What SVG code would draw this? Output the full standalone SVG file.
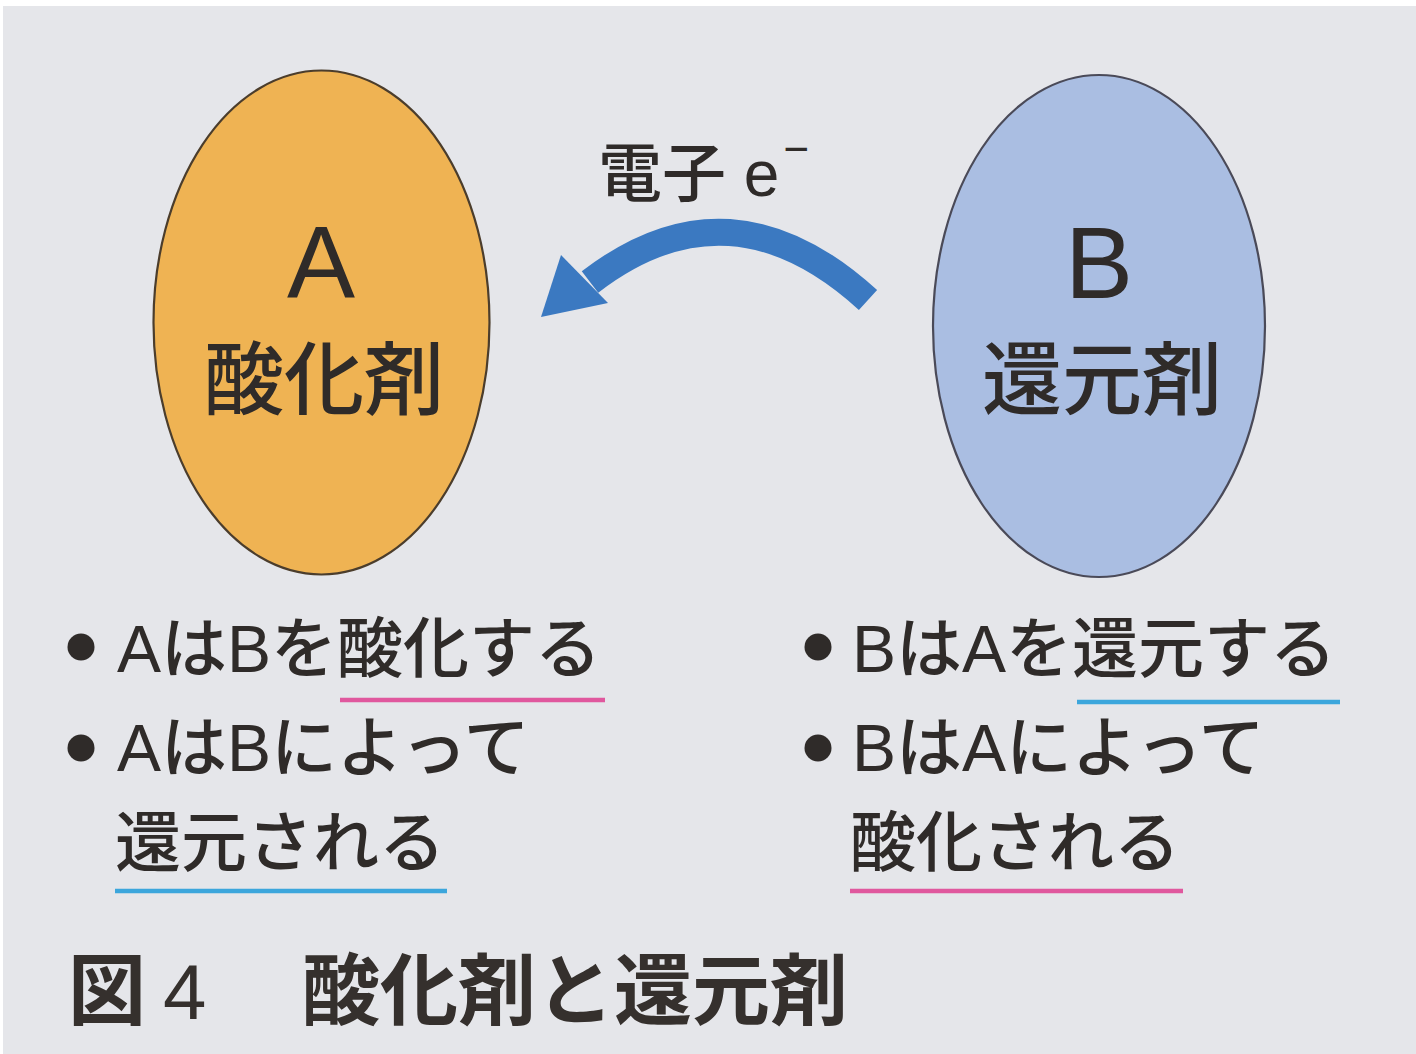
<svg xmlns="http://www.w3.org/2000/svg" width="1416" height="1054" viewBox="0 0 1416 1054">
  <style>
    .t { font-family: "Liberation Sans", "Noto Sans CJK JP", sans-serif; fill: #2f2b29; }
    .big { font-size: 102px; text-anchor: middle; }
    .role { font-size: 80px; text-anchor: middle; font-family: "Noto Sans CJK JP", sans-serif; font-weight: 500; }
    .body { font-size: 66px; font-weight: 500; }
    .title { font-size: 78px; font-weight: bold; font-family: "Noto Sans CJK JP", sans-serif; fill: #35302d; }
    .dot { fill: #2f2b29; }
    .ul-pink { stroke: #e0589e; stroke-width: 4.5; }
    .ul-blue { stroke: #3ca6dc; stroke-width: 4.5; }
  </style>
  <rect x="0" y="0" width="1416" height="1054" fill="#ffffff"/>
  <rect x="3" y="6" width="1413" height="1048" fill="#e5e6ea"/>

  <g id="node-A">
    <ellipse cx="321.5" cy="322.5" rx="168" ry="252" fill="#efb353" stroke="#4b3d2c" stroke-width="2.2"/>
    <text class="t big" x="321" y="298">A</text>
    <text class="t role" x="324" y="408">酸化剤</text>
  </g>

  <g id="node-B">
    <ellipse cx="1099" cy="326" rx="166" ry="251" fill="#aabee2" stroke="#4a4a58" stroke-width="2.2"/>
    <text class="t big" x="1099" y="298">B</text>
    <text class="t role" x="1102" y="408">還元剤</text>
  </g>

  <g id="connectors">
    <path d="M 868 300 Q 730 174 590 282" fill="none" stroke="#3b79c1" stroke-width="27"/>
    <polygon points="541,317 561,255 608,303" fill="#3b79c1"/>
    <text class="t" x="598" y="196" font-size="64" font-weight="500">電子 e<tspan dx="4" dy="-32" font-size="44">−</tspan></text>
  </g>

  <g id="statements-A">
    <circle class="dot" cx="81" cy="647" r="13.5"/>
    <text class="t body" x="117" y="672">AはBを酸化する</text>
    <line class="ul-pink" x1="340" y1="700" x2="605" y2="700"/>
    <circle class="dot" cx="81" cy="748" r="13.5"/>
    <text class="t body" x="117" y="771">AはBによって</text>
    <text class="t body" x="115" y="866">還元される</text>
    <line class="ul-blue" x1="115" y1="891" x2="447" y2="891"/>
  </g>

  <g id="statements-B">
    <circle class="dot" cx="818" cy="647" r="13.5"/>
    <text class="t body" x="852" y="672">BはAを還元する</text>
    <line class="ul-blue" x1="1077" y1="702" x2="1340" y2="702"/>
    <circle class="dot" cx="818" cy="748" r="13.5"/>
    <text class="t body" x="852" y="771">BはAによって</text>
    <text class="t body" x="850" y="866">酸化される</text>
    <line class="ul-pink" x1="850" y1="891" x2="1183" y2="891"/>
  </g>

  <g id="caption">
    <text class="title" y="1019"><tspan x="68">図</tspan><tspan x="163" font-weight="normal" font-family="Liberation Sans, sans-serif">4</tspan><tspan x="302">酸化剤と還元剤</tspan></text>
  </g>
</svg>
